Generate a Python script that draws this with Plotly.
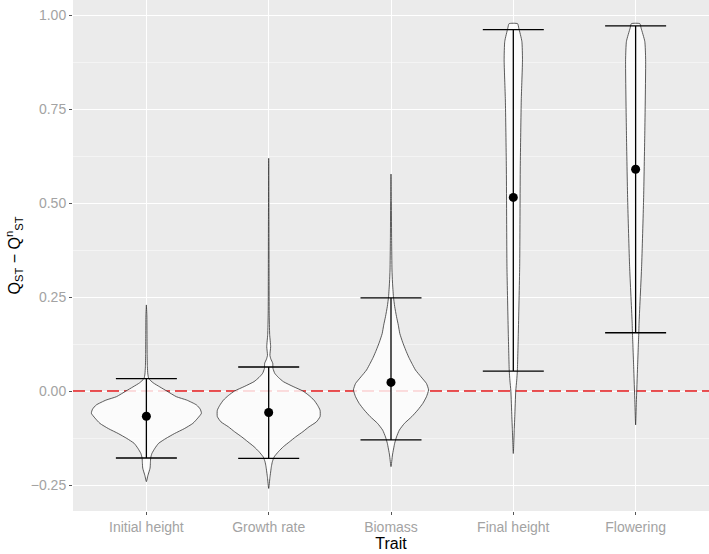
import plotly.graph_objects as go

# traits on the x axis
traits = ["Initial height", "Growth rate", "Biomass", "Final height", "Flowering"]

# mean and error bar ends (QST - QST^n)
means = [-0.067, -0.057, 0.023, 0.515, 0.590]
lower = [-0.178, -0.179, -0.130, 0.053, 0.155]
upper = [0.033, 0.064, 0.248, 0.961, 0.971]

# violin outlines: y grid and half width (in category units), bottom to top
vio_y = {
    "Initial height": [-0.241, -0.225, -0.205, -0.19, -0.178, -0.166, -0.152, -0.139, -0.126,
                       -0.113, -0.10, -0.086, -0.072, -0.059, -0.048, -0.037, -0.024, -0.015,
                       0.0, 0.011, 0.022, 0.033, 0.045, 0.065, 0.10, 0.15, 0.20, 0.229],
    "Growth rate": [-0.259, -0.23, -0.201, -0.188, -0.175, -0.161, -0.148, -0.135, -0.122,
                    -0.108, -0.095, -0.082, -0.068, -0.051, -0.038, -0.024, -0.012, 0.0,
                    0.012, 0.025, 0.036, 0.047, 0.06, 0.074, 0.085, 0.095, 0.118, 0.15,
                    0.207, 0.30, 0.45, 0.619],
    "Biomass": [-0.201, -0.17, -0.139, -0.122, -0.104, -0.086, -0.068, -0.05, -0.033, -0.015,
                0.003, 0.02, 0.038, 0.056, 0.074, 0.09, 0.109, 0.13, 0.153, 0.175, 0.198,
                0.225, 0.251, 0.29, 0.322, 0.40, 0.50, 0.577],
    "Final height": [-0.166, -0.10, -0.068, 0.0, 0.029, 0.053, 0.154, 0.331, 0.597, 0.774,
                     0.881, 0.93, 0.965, 0.977],
    "Flowering": [-0.09, -0.03, 0.065, 0.12, 0.155, 0.18, 0.331, 0.508, 0.686, 0.881, 0.93,
                  0.965, 0.977],
}
vio_w = {
    "Initial height": [0, 0.012, 0.03, 0.033, 0.035, 0.045, 0.07, 0.10, 0.16, 0.23, 0.31,
                       0.38, 0.42, 0.45, 0.44, 0.41, 0.33, 0.245, 0.167, 0.11, 0.055, 0.02,
                       0.012, 0.008, 0.006, 0.005, 0.004, 0],
    "Growth rate": [0, 0.01, 0.022, 0.03, 0.045, 0.08, 0.12, 0.17, 0.22, 0.28, 0.33, 0.39,
                    0.42, 0.42, 0.40, 0.37, 0.33, 0.28, 0.2, 0.12, 0.08, 0.05, 0.035, 0.033,
                    0.018, 0.01, 0.016, 0.008, 0.004, 0.003, 0.002, 0],
    "Biomass": [0, 0.012, 0.03, 0.045, 0.068, 0.11, 0.17, 0.22, 0.26, 0.29, 0.307, 0.29,
                0.245, 0.2, 0.17, 0.145, 0.12, 0.095, 0.072, 0.06, 0.045, 0.03, 0.02, 0.012,
                0.008, 0.005, 0.003, 0],
    "Final height": [0, 0.008, 0.012, 0.02, 0.028, 0.033, 0.041, 0.052, 0.057, 0.065, 0.075,
                     0.07, 0.045, 0.035],
    "Flowering": [0, 0.006, 0.016, 0.022, 0.026, 0.028, 0.049, 0.065, 0.075, 0.082, 0.075,
                  0.045, 0.035],
}

x_range = [0.4, 5.6]
y_range = [-0.319, 1.040]

fig = go.Figure()

# dashed reference line at zero, under the violins
fig.add_trace(go.Scatter(
    x=x_range, y=[0, 0], mode="lines",
    line=dict(color="#E41A1C", width=1.6, dash="12px,5px"),
    hoverinfo="skip", showlegend=False,
))

for i, t in enumerate(traits):
    pos = i + 1
    ys = vio_y[t]
    ws = vio_w[t]
    xs = [pos + w for w in ws] + [pos - w for w in reversed(ws)]
    yy = ys + list(reversed(ys))
    fig.add_trace(go.Scatter(
        x=xs, y=yy, mode="lines", fill="toself",
        fillcolor="rgba(255,255,255,0.8)",
        line=dict(color="#333333", width=0.8, shape="spline", smoothing=0.5),
        hoverinfo="skip", showlegend=False,
    ))

fig.add_trace(go.Scatter(
    x=list(range(1, len(traits) + 1)), y=means, mode="markers",
    marker=dict(color="black", size=9),
    error_y=dict(
        type="data", symmetric=False,
        array=[u - m for u, m in zip(upper, means)],
        arrayminus=[m - l for m, l in zip(means, lower)],
        color="black", thickness=1.3, width=30.5,
    ),
    showlegend=False,
))

fig.update_layout(
    width=709, height=554,
    margin=dict(l=73, r=0, t=0, b=43),
    paper_bgcolor="white",
    plot_bgcolor="#EBEBEB",
    font=dict(family="Liberation Sans, Arial, sans-serif", size=14, color="#A3A3A3"),
    showlegend=False,
)
fig.update_xaxes(
    range=x_range, automargin=False,
    tickvals=list(range(1, len(traits) + 1)), ticktext=traits,
    showgrid=True, gridcolor="white", gridwidth=1.1, zeroline=False,
    ticks="outside", ticklen=3, tickcolor="#555555",
    title=dict(text="Trait", font=dict(size=16, color="black"), standoff=2),
)
fig.update_yaxes(
    range=y_range, automargin=False,
    tickvals=[-0.25, 0, 0.25, 0.5, 0.75, 1.0], tickformat=".2f",
    showgrid=True, gridcolor="white", gridwidth=1.1, zeroline=False,
    minor=dict(dtick=0.125, tick0=0.125, showgrid=True,
               gridcolor="#F4F4F4", gridwidth=0.6),
    ticks="outside", ticklen=3, tickcolor="#555555",
    title=dict(text="Q<sub>ST</sub> − Q<sup>n</sup><sub>ST</sub>",
               font=dict(size=16, color="black"), standoff=6),
)

# drop the default page margin so the figure sits flush in the window
fig.write_html("out.html", config={"displayModeBar": False},
               post_script="document.body.style.margin='0';")
